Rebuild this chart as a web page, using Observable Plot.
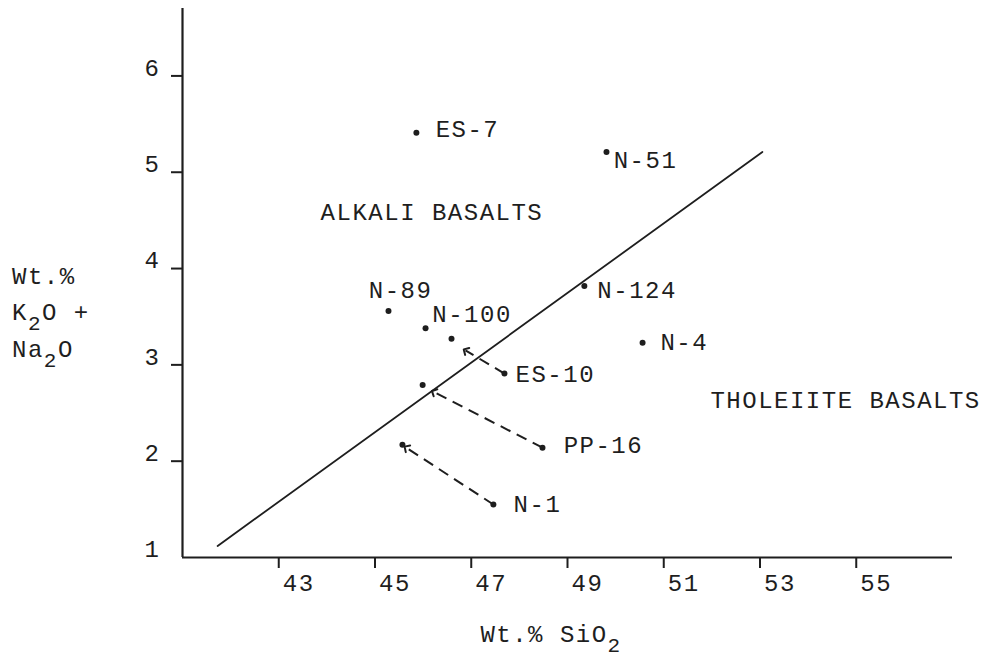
<!DOCTYPE html>
<html><head><meta charset="utf-8">
<script src="https://cdn.jsdelivr.net/npm/d3@7"></script>
<script src="https://cdn.jsdelivr.net/npm/@observablehq/plot@0.6"></script>
<style>
body{margin:0;background:#fff;}
</style></head><body><div id="chart"></div>
<script>
// Samples (Wt.% SiO2 vs Wt.% K2O + Na2O)
const samples = ["ES-7","N-51","N-124","N-4","N-89","N-100","ES-10","PP-16","N-1"];
const sio2    = [45.86, 49.81, 49.35, 50.56, 45.28, 46.05, 47.69, 48.48, 47.46];
const alkali  = [5.41, 5.21, 3.82, 3.23, 3.56, 3.38, 2.91, 2.14, 1.55];
// where each sample name is written
const labelSio2   = [46.26, 49.96, 49.62, 50.93, 44.87, 46.19, 47.92, 48.92, 47.88];
const labelAlkali = [5.45, 5.12, 3.77, 3.23, 3.77, 3.53, 2.90, 2.16, 1.55];
// recalculated compositions (unlabelled dots) and the arrows pointing to them
const shiftedFrom   = ["ES-10","PP-16","N-1"];
const shiftedSio2   = [46.59, 45.99, 45.57];
const shiftedAlkali = [3.27, 2.79, 2.17];
const arrowTipSio2   = [46.88, 46.22, 45.65];
const arrowTipAlkali = [3.15, 2.72, 2.14];
// alkali / tholeiite dividing line
const dividerSio2   = [41.73, 53.05];
const dividerAlkali = [1.12, 5.21];
// field names
const regions = ["ALKALI BASALTS","THOLEIITE BASALTS"];
const regionSio2 = [43.87, 51.97];
const regionAlkali = [4.58, 2.63];
// axes
const xDomain = [41, 57];
const yDomain = [1, 6.7];
const xTicks = [43,45,47,49,51,53,55];
const yTicks = [1,2,3,4,5,6];

const ink = "#1e1e1e";
const FONT = "'Liberation Mono','Courier New',monospace";

const points = samples.map((s,i)=>({name:s, x:sio2[i], y:alkali[i], lx:labelSio2[i], ly:labelAlkali[i]}));
const shifted = shiftedFrom.map((s,i)=>{
  const j = samples.indexOf(s);
  return {from:s, x0:sio2[j], y0:alkali[j], x:shiftedSio2[i], y:shiftedAlkali[i], tx:arrowTipSio2[i], ty:arrowTipAlkali[i]};
});
const divider = dividerSio2.map((x,i)=>({x, y:dividerAlkali[i]}));
const regionData = regions.map((r,i)=>({name:r, x:regionSio2[i], y:regionAlkali[i]}));
const fmt = d => String(d);

const chart = Plot.plot({
  width: 985,
  height: 672,
  marginTop: 8,
  marginRight: 33,
  marginBottom: 115,
  marginLeft: 182,
  style: {fontFamily: FONT, fontSize: "24px", letterSpacing: "1.5px", color: ink, background: "#fff"},
  x: {domain: xDomain, label: null},
  y: {domain: yDomain, label: null},
  marks: [
    Plot.ruleX([xDomain[0]], {stroke: ink, strokeWidth: 2.2}),
    Plot.ruleY([yDomain[0]], {stroke: ink, strokeWidth: 2.2}),
    // x ticks (marks only) and labels (text only)
    Plot.axisX(xTicks, {tickSize: 11, fill: "none", stroke: ink, strokeWidth: 2, tickFormat: fmt}),
    Plot.axisX(xTicks, {tickSize: 0, tickPadding: 16, stroke: "none", textAnchor: "start", dx: 4, fill: ink, fontSize: 24, tickFormat: fmt}),
    // y ticks (no tick at 1) and labels
    Plot.axisY(yTicks.filter(v => v > 1), {tickSize: 11, fill: "none", stroke: ink, strokeWidth: 2, tickFormat: fmt}),
    Plot.axisY(yTicks, {tickSize: 0, tickPadding: 22, stroke: "none", dy: -8, fill: ink, fontSize: 24, tickFormat: fmt}),
    Plot.line(divider, {x: "x", y: "y", stroke: ink, strokeWidth: 1.8}),
    Plot.link(shifted, {x1: "x0", y1: "y0", x2: "tx", y2: "ty", stroke: ink, strokeWidth: 2, strokeDasharray: "11,7", markerEnd: "arrow"}),
    Plot.dot(shifted, {x: "x", y: "y", r: 3, fill: ink}),
    Plot.dot(points, {x: "x", y: "y", r: 3, fill: ink}),
    Plot.text(points, {x: "lx", y: "ly", text: "name", textAnchor: "start", fill: ink, fontSize: 24}),
    Plot.text(regionData, {x: "x", y: "y", text: "name", textAnchor: "start", fill: ink, fontSize: 24})
  ]
});

document.getElementById("chart").appendChild(chart);

// Axis titles with subscripts
const svg = d3.select(chart);
const sx = chart.scale("x");
function title(x, y, parts) {
  const t = svg.append("text").attr("x", x).attr("y", y).attr("text-anchor", "start")
    .attr("fill", ink).attr("font-size", 24).attr("dy", "0.35em");
  let low = false;
  parts.forEach(p => {
    const sub = p.sub === true;
    const dy = sub ? 10 : (low ? -10 : 0);
    low = sub;
    const ts = t.append("tspan").attr("dy", dy).text(p.t);
    if (sub) ts.attr("font-size", 21);
  });
}
title(12, 284, [{t: "Wt.%"}]);
title(12, 320, [{t: "K"}, {t: "2", sub: true}, {t: "O +"}]);
title(12, 357, [{t: "Na"}, {t: "2", sub: true}, {t: "O"}]);
title(sx.apply(47.2), 642, [{t: "Wt.% SiO"}, {t: "2", sub: true}]);
</script>
</body></html>
